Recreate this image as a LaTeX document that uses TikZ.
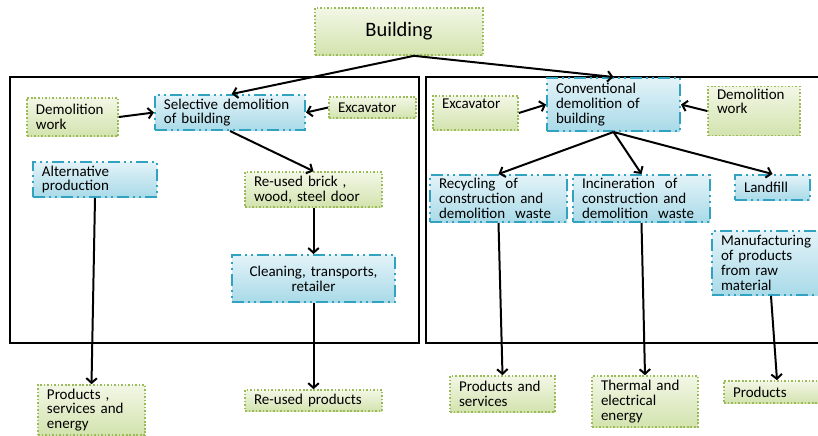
\documentclass[tikz,border=0pt]{standalone}
\usepackage{fontspec}
\setmainfont{Carlito}
\usetikzlibrary{arrows.meta}
\definecolor{greenline}{HTML}{9BBB59}
\definecolor{greentop}{HTML}{F2F7E6}
\definecolor{greenbot}{HTML}{D3E3AE}
\definecolor{blueline}{HTML}{31A2C0}
\definecolor{bluetop}{HTML}{E3F3F8}
\definecolor{bluebot}{HTML}{A9DAE8}
\begin{document}
\begin{tikzpicture}[x=0.03cm,y=-0.03cm]
\tikzstyle{every node}+=[font=\fontsize{12.8}{12.6}\selectfont, inner xsep=0.27cm, inner ysep=2pt, align=left]
\tikzstyle{gbox}=[draw=greenline, line width=1.4pt, dash pattern=on 1.4pt off 1.6pt, top color=greentop, bottom color=greenbot]
\tikzstyle{bbox}=[draw=blueline, line width=1.7pt, dash pattern=on 10pt off 3.5pt on 1.7pt off 3.5pt on 1.7pt off 3.5pt, top color=bluetop, bottom color=bluebot]
\tikzstyle{arr}=[black, line width=1.7pt, -{Straight Barb[length=4pt,width=9pt]}]
\tikzstyle{frame}=[black, line width=1.6pt]
\useasboundingbox (0,0) rectangle (818,435);
\clip (0,0) rectangle (818,435);
% frames
\draw [frame] (10,77) rectangle (419,343);
\draw [frame] (426,77) rectangle (830,343);
% top
\node [gbox, align=center, text width=4.5cm, minimum height=1.41cm, font=\fontsize{17.5}{19}\selectfont] (bld) at (399,31.5) {Building};
% selective demolition side
\node [gbox, text width=2.19cm, minimum height=1.14cm] (dwL) at (72.5,117) {Demolition\\work};
\node [bbox, text width=3.96cm, minimum height=1.05cm] (sel) at (230,112.5) {Selective demolition\\of building};
\node [gbox, text width=2.07cm, minimum height=0.63cm] (excL) at (372.5,107.5) {Excavator};
\node [bbox, text width=3.18cm, minimum height=1.05cm] (alt) at (95,179.5) {Alternative\\production};
\node [gbox, text width=3.57cm, minimum height=1.05cm] (brick) at (313.5,189.5) {Re-used brick ,\\wood, steel door};
\node [bbox, align=center, text width=4.35cm, minimum height=1.41cm] (clean) at (313.5,278.5) {Cleaning, transports,\\retailer};
\node [gbox, text width=2.67cm, minimum height=1.5cm] (pse) at (91.5,410) {Products ,\\services and\\energy};
\node [gbox, text width=3.57cm, minimum height=0.63cm] (rup) at (313.5,400.5) {Re-used products};
% conventional demolition side
\node [gbox, text width=2.01cm, minimum height=1.02cm] (excR) at (475.5,113) {Excavator\\\strut};
\node [bbox, text width=3.45cm, minimum height=1.59cm] (conv) at (613.5,104.5) {Conventional\\demolition of\\building};
\node [gbox, text width=2.22cm, minimum height=1.44cm] (dwR) at (754,111) {Demolition\\work\\\strut};
\node [bbox, text width=3.57cm, minimum height=1.41cm] (rec) at (498.5,198.5) {Recycling\ \ of\\construction and\\demolition\ \ waste};
\node [bbox, text width=3.57cm, minimum height=1.41cm] (inc) at (641.5,198.5) {Incineration\ \ of\\construction and\\demolition\ \ waste};
\node [bbox, text width=1.71cm, minimum height=0.75cm] (land) at (772.5,187.5) {Landfill};
\node [bbox, text width=3.0cm, minimum height=1.92cm] (manu) at (771,263) {Manufacturing\\of products\\from raw\\material};
\node [gbox, text width=2.61cm, minimum height=1.08cm] (ps) at (502.5,394) {Products and\\services};
\node [gbox, text width=2.64cm, minimum height=1.53cm] (ted) at (645,401.5) {Thermal and\\electrical\\energy};
\node [gbox, text width=2.64cm, minimum height=0.66cm] (prod) at (777,392) {Products};
% arrows
\draw [arr] ([xshift=0.45cm]bld.south) -- ([xshift=0.05cm]sel.north);
\draw [arr] ([xshift=0.45cm]bld.south) -- (conv.north);
\draw [arr] (dwL.east) -- (sel.west);
\draw [arr] (excL.west) -- (sel.east);
\draw [arr] (sel.south) -- (brick.north);
\draw [arr] (brick.south) -- (clean.north);
\draw [arr] (clean.south) -- (rup.north);
\draw [arr] (alt.south) -- (pse.north);
\draw [arr] (excR.east) -- (conv.west);
\draw [arr] (dwR.west) -- (conv.east);
\draw [arr] (conv.south) -- (rec.north);
\draw [arr] (conv.south) -- (inc.north);
\draw [arr] (conv.south) -- (land.north);
\draw [arr] (rec.south) -- (ps.north);
\draw [arr] (inc.south) -- (ted.north);
\draw [arr] (manu.south) -- (prod.north);
\end{tikzpicture}
\end{document}
